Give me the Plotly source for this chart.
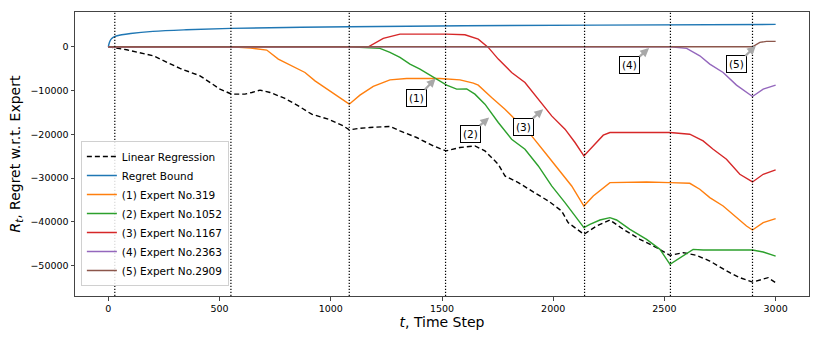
import plotly.graph_objects as go

# regret curves
t_bound = [0, 3, 8, 15, 30, 60, 100, 200, 350, 550, 800, 1083, 1600, 2200, 3000]
bound = [0, 700, 1370, 1900, 2380, 2750, 3050, 3520, 3890, 4210, 4420, 4580, 4800, 4950, 5120]

t_lr = [0, 30, 83, 202, 322, 412, 502, 554, 614, 645, 682, 727, 794, 854, 914, 989, 1056,
        1083, 1124, 1176, 1266, 1311, 1386, 1461, 1518, 1581, 1648, 1693, 1753, 1783, 1843,
        1903, 1978, 2038, 2067, 2138, 2195, 2255, 2315, 2390, 2465, 2525, 2584, 2645, 2704,
        2794, 2839, 2896, 2929, 2966, 3000]
lin_reg = [0, -300, -690, -2060, -4950, -6630, -9680, -10820, -10820, -10440, -9900, -10440,
           -11810, -13500, -15400, -16540, -18070, -18990, -18670, -18440, -18210, -19220,
           -20730, -22650, -23790, -23020, -22650, -23790, -26840, -29510, -31030, -32940,
           -35230, -37520, -40180, -42860, -40950, -39580, -41710, -44000, -45900, -47660,
           -47050, -47660, -48960, -51620, -52760, -53770, -53310, -52760, -53900]

t_e1 = [0, 551, 640, 712, 764, 824, 884, 929, 974, 1034, 1083, 1131, 1191, 1266, 1341, 1491,
        1581, 1641, 1663, 1723, 1783, 1843, 1903, 1963, 2022, 2083, 2138, 2180, 2255, 2420,
        2525, 2614, 2659, 2704, 2764, 2824, 2869, 2896, 2944, 3000]
e1 = [0, 0, -300, -750, -2810, -4350, -5870, -7780, -9290, -11350, -13110, -11050, -9060,
      -7550, -7230, -7230, -7550, -8310, -8760, -11580, -14250, -17300, -20360, -24160,
      -27980, -31800, -36380, -34090, -31030, -30890, -31030, -31190, -32560, -34460,
      -36380, -39040, -40950, -41870, -40180, -39260]

t_e2 = [0, 1083, 1221, 1266, 1311, 1356, 1401, 1446, 1476, 1521, 1566, 1611, 1648, 1693,
        1753, 1813, 1873, 1933, 1993, 2053, 2138, 2165, 2210, 2255, 2285, 2345, 2420, 2480,
        2525, 2570, 2629, 2674, 2896, 2944, 3000]
e2 = [0, 0, -370, -1280, -2430, -3960, -5100, -6480, -7230, -8760, -9680, -9610, -10820,
      -13110, -17300, -21120, -23400, -27230, -31800, -35600, -41330, -40570, -39580,
      -39040, -39580, -41710, -44000, -46290, -49720, -48190, -46290, -46440, -46440,
      -46900, -47820]

t_e3 = [0, 1169, 1236, 1311, 1521, 1603, 1663, 1708, 1753, 1813, 1873, 1933, 1993, 2053,
        2098, 2138, 2180, 2225, 2255, 2525, 2614, 2674, 2719, 2779, 2839, 2896, 2944, 3000]
e3 = [0, 0, 1920, 2900, 2900, 2750, 1760, -140, -2810, -5870, -8150, -11970, -15790,
      -18830, -21870, -24940, -22650, -20200, -19590, -19590, -19970, -21500, -23400,
      -25690, -29130, -30890, -29130, -28140]

t_e4 = [0, 2527, 2600, 2659, 2704, 2764, 2824, 2896, 2944, 3000]
e4 = [0, 0, -370, -2060, -3960, -5870, -8760, -11350, -9680, -8760]

t_e5 = [0, 2896, 2929, 2959, 3000]
e5 = [0, 0, 1000, 1230, 1230]

change_points = [29, 551, 1083, 1516, 2141, 2527, 2896]

ann_labels = ["(1)", "(2)", "(3)", "(4)", "(5)"]
ann_tip_t = [1471, 1712, 1955, 2431, 2911]
ann_tip_v = [-7230, -16150, -14250, -300, 230]
ann_box_t = [1386, 1626, 1865, 2345, 2824]
ann_box_v = [-11740, -19970, -18300, -4190, -4030]

y_ticks = [0, -10000, -20000, -30000, -40000, -50000]
y_tick_text = ["0", "\u221210000", "\u221220000", "\u221230000", "\u221240000", "\u221250000"]
x_ticks = [0, 500, 1000, 1500, 2000, 2500, 3000]

FONT = "DejaVu Sans"

fig = go.Figure()

fig.add_trace(go.Scatter(x=t_lr, y=lin_reg, mode="lines", name="Linear Regression",
                         line=dict(color="black", width=1.4, dash="5px,3px")))
fig.add_trace(go.Scatter(x=t_bound, y=bound, mode="lines", name="Regret Bound",
                         line=dict(color="#1f77b4", width=1.4, shape="spline")))

experts = [
    (t_e1, e1, "(1) Expert No.319", "#ff7f0e"),
    (t_e2, e2, "(2) Expert No.1052", "#2ca02c"),
    (t_e3, e3, "(3) Expert No.1167", "#d62728"),
    (t_e4, e4, "(4) Expert No.2363", "#9467bd"),
    (t_e5, e5, "(5) Expert No.2909", "#8c564b"),
]
for tx, vals, name, col in experts:
    fig.add_trace(go.Scatter(x=tx, y=vals, mode="lines", name=name,
                             line=dict(color=col, width=1.4)))

for cp in change_points:
    fig.add_shape(type="line", xref="x", yref="paper", x0=cp, x1=cp, y0=0, y1=1,
                  line=dict(color="black", width=1.2, dash="1.3px,1.7px"))

for lab, tt, tv, bt, bv in zip(ann_labels, ann_tip_t, ann_tip_v, ann_box_t, ann_box_v):
    fig.add_annotation(x=tt, y=tv, ax=bt, ay=bv, axref="x", ayref="y", text=lab,
                       showarrow=True, arrowhead=2, arrowsize=0.8, arrowwidth=2.2,
                       arrowcolor="#a8a8a8", bordercolor="black", borderwidth=1,
                       borderpad=2, bgcolor="white",
                       font=dict(family=FONT, size=10.5, color="black"))

fig.update_layout(
    width=822, height=343,
    margin=dict(l=75, r=13, t=12, b=47, autoexpand=False),
    plot_bgcolor="white", paper_bgcolor="white",
    font=dict(family=FONT, size=10, color="black"),
    showlegend=True,
    legend=dict(x=0.008, y=0.035, xanchor="left", yanchor="bottom",
                bgcolor="rgba(255,255,255,0.85)", bordercolor="#d0d0d0", borderwidth=1,
                font=dict(family=FONT, size=10.5), tracegroupgap=0),
)
fig.update_xaxes(range=[-150, 3150], tickvals=x_ticks, ticks="outside", ticklen=3.5,
                 showgrid=False, zeroline=False, showline=True, mirror=True,
                 linecolor="#444", linewidth=1, tickfont=dict(size=9.5), automargin=False,
                 title=dict(text="<i>t</i>, Time Step", font=dict(size=14), standoff=1))
fig.update_yaxes(range=[-56950, 7950], tickvals=y_ticks, ticktext=y_tick_text,
                 ticks="outside", ticklen=3.5, showgrid=False, zeroline=False,
                 showline=True, mirror=True, linecolor="#444", linewidth=1,
                 tickfont=dict(size=9.5), automargin=False,
                 title=dict(text="<i>R<sub>t</sub></i>, Regret w.r.t. Expert",
                            font=dict(size=14), standoff=6))

# drop the default page margin so the figure sits at the window's corner
fig.write_html("out.html", config={"displayModeBar": False},
               post_script="document.body.style.margin='0';")
